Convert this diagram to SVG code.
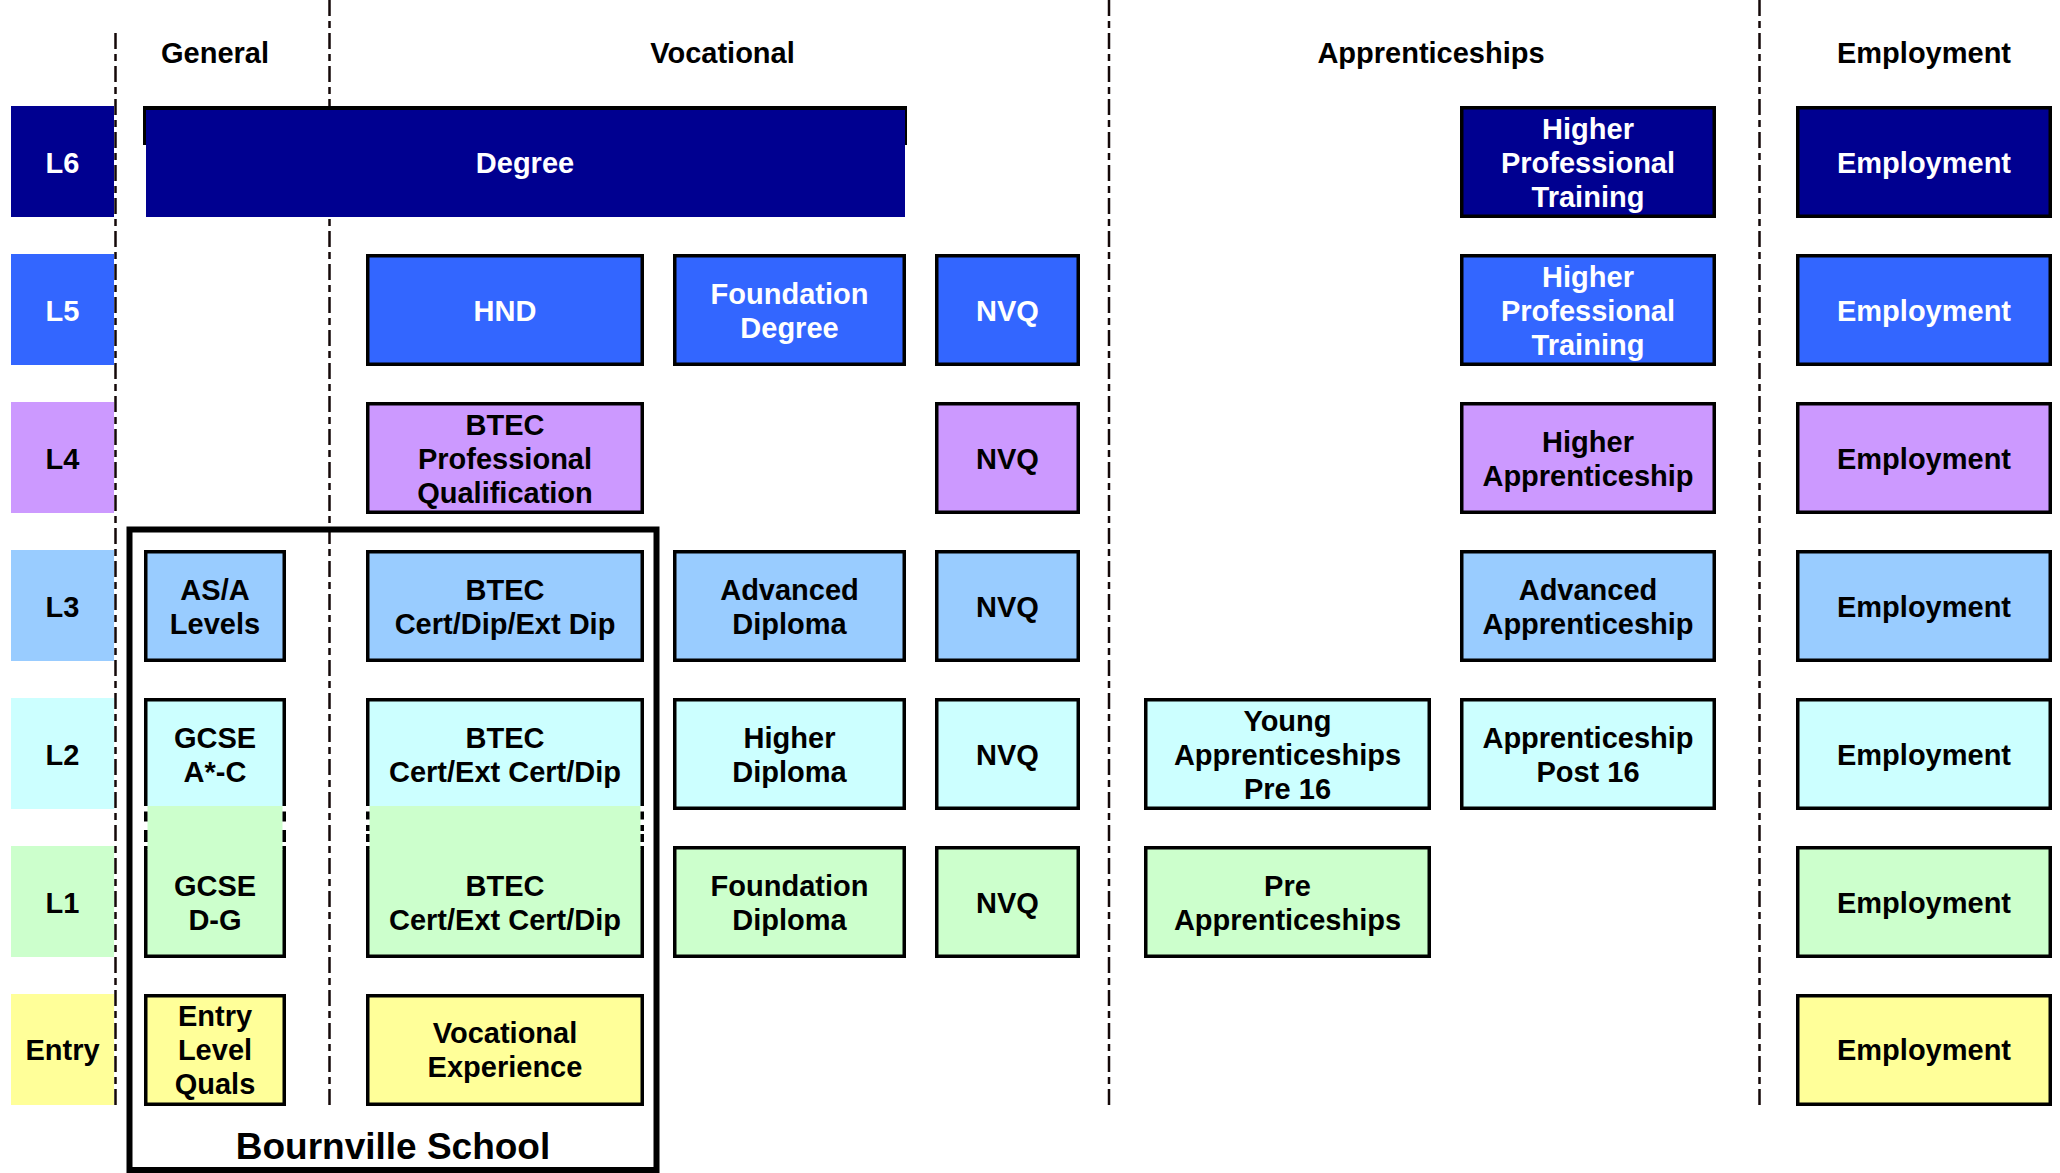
<svg xmlns="http://www.w3.org/2000/svg" width="2060" height="1173" viewBox="0 0 2060 1173">
<style>
.t{font-family:"Liberation Sans",Arial,sans-serif;font-weight:bold;font-size:29px;text-anchor:middle}
.w{fill:#fff}.k{fill:#000}
.b{stroke:#000;stroke-width:3.5}
.c6{fill:#000090}.c5{fill:#3366FF}.c4{fill:#CC99FF}.c3{fill:#99CCFF}.c2{fill:#CCFFFF}.c1{fill:#CCFFCC}.c0{fill:#FFFF99}
.d{stroke:#140808;stroke-width:2.5;stroke-dasharray:16 5 7 5;fill:none}
</style>
<rect width="2060" height="1173" fill="#fff"/>
<g id="headers">
<text class="t k" x="215" y="62.5">General</text>
<text class="t k" x="722.5" y="62.5">Vocational</text>
<text class="t k" x="1431" y="62.5">Apprenticeships</text>
<text class="t k" x="1924" y="62.5">Employment</text>
</g>
<g id="levels">
<g id="lvl-L6"><rect class="c6" x="11" y="106" width="103" height="111"/><text class="t w" x="62.5" y="172.5">L6</text></g>
<g id="lvl-L5"><rect class="c5" x="11" y="254" width="103" height="111"/><text class="t w" x="62.5" y="320.5">L5</text></g>
<g id="lvl-L4"><rect class="c4" x="11" y="402" width="103" height="111"/><text class="t k" x="62.5" y="468.5">L4</text></g>
<g id="lvl-L3"><rect class="c3" x="11" y="550" width="103" height="111"/><text class="t k" x="62.5" y="616.5">L3</text></g>
<g id="lvl-L2"><rect class="c2" x="11" y="698" width="103" height="111"/><text class="t k" x="62.5" y="764.5">L2</text></g>
<g id="lvl-L1"><rect class="c1" x="11" y="846" width="103" height="111"/><text class="t k" x="62.5" y="912.5">L1</text></g>
<g id="lvl-Entry"><rect class="c0" x="11" y="994" width="103" height="111"/><text class="t k" x="62.5" y="1059.5">Entry</text></g>
</g>
<g id="connectors">
<line class="d" x1="115.5" y1="33" x2="115.5" y2="1106"/>
<line class="d" x1="329.5" y1="0" x2="329.5" y2="1106"/>
<line class="d" x1="1109" y1="0" x2="1109" y2="1106"/>
<line class="d" x1="1759.5" y1="0" x2="1759.5" y2="1106"/>
</g>
<g id="bournville">
<rect x="129.5" y="529.5" width="527" height="640.5" fill="none" stroke="#000" stroke-width="6"/>
<text class="t k" x="393" y="1159" style="font-size:37px">Bournville School</text>
</g>
<g id="degree">
<rect x="143" y="106" width="764" height="39" fill="#000"/>
<rect class="c6" x="146" y="110" width="759" height="107"/>
<text class="t w" x="525" y="172.5">Degree</text>
</g>
<g id="hpt6"><rect class="b c6" x="1461.75" y="107.75" width="252.5" height="108.5"/><text class="t w" x="1588" y="138.5">Higher</text><text class="t w" x="1588" y="172.5">Professional</text><text class="t w" x="1588" y="206.5">Training</text></g>
<g id="emp6"><rect class="b c6" x="1797.75" y="107.75" width="252.5" height="108.5"/><text class="t w" x="1924" y="172.5">Employment</text></g>

<g id="hnd"><rect class="b c5" x="367.75" y="255.75" width="274.5" height="108.5"/><text class="t w" x="505" y="320.5">HND</text></g>
<g id="fdeg"><rect class="b c5" x="674.75" y="255.75" width="229.5" height="108.5"/><text class="t w" x="789.5" y="303.5">Foundation</text><text class="t w" x="789.5" y="337.5">Degree</text></g>
<g id="nvq5"><rect class="b c5" x="936.75" y="255.75" width="141.5" height="108.5"/><text class="t w" x="1007.5" y="320.5">NVQ</text></g>
<g id="hpt5"><rect class="b c5" x="1461.75" y="255.75" width="252.5" height="108.5"/><text class="t w" x="1588" y="286.5">Higher</text><text class="t w" x="1588" y="320.5">Professional</text><text class="t w" x="1588" y="354.5">Training</text></g>
<g id="emp5"><rect class="b c5" x="1797.75" y="255.75" width="252.5" height="108.5"/><text class="t w" x="1924" y="320.5">Employment</text></g>

<g id="btecpq"><rect class="b c4" x="367.75" y="403.75" width="274.5" height="108.5"/><text class="t k" x="505" y="434.5">BTEC</text><text class="t k" x="505" y="468.5">Professional</text><text class="t k" x="505" y="502.5">Qualification</text></g>
<g id="nvq4"><rect class="b c4" x="936.75" y="403.75" width="141.5" height="108.5"/><text class="t k" x="1007.5" y="468.5">NVQ</text></g>
<g id="happ"><rect class="b c4" x="1461.75" y="403.75" width="252.5" height="108.5"/><text class="t k" x="1588" y="451.5">Higher</text><text class="t k" x="1588" y="485.5">Apprenticeship</text></g>
<g id="emp4"><rect class="b c4" x="1797.75" y="403.75" width="252.5" height="108.5"/><text class="t k" x="1924" y="468.5">Employment</text></g>

<g id="asa"><rect class="b c3" x="145.75" y="551.75" width="138.5" height="108.5"/><text class="t k" x="215" y="599.5">AS/A</text><text class="t k" x="215" y="633.5">Levels</text></g>
<g id="btec3"><rect class="b c3" x="367.75" y="551.75" width="274.5" height="108.5"/><text class="t k" x="505" y="599.5">BTEC</text><text class="t k" x="505" y="633.5">Cert/Dip/Ext Dip</text></g>
<g id="advdip"><rect class="b c3" x="674.75" y="551.75" width="229.5" height="108.5"/><text class="t k" x="789.5" y="599.5">Advanced</text><text class="t k" x="789.5" y="633.5">Diploma</text></g>
<g id="nvq3"><rect class="b c3" x="936.75" y="551.75" width="141.5" height="108.5"/><text class="t k" x="1007.5" y="616.5">NVQ</text></g>
<g id="advapp"><rect class="b c3" x="1461.75" y="551.75" width="252.5" height="108.5"/><text class="t k" x="1588" y="599.5">Advanced</text><text class="t k" x="1588" y="633.5">Apprenticeship</text></g>
<g id="emp3"><rect class="b c3" x="1797.75" y="551.75" width="252.5" height="108.5"/><text class="t k" x="1924" y="616.5">Employment</text></g>

<g id="gcseac"><rect class="b c2" x="145.75" y="699.75" width="138.5" height="108.5"/></g>
<g id="btec2"><rect class="b c2" x="367.75" y="699.75" width="274.5" height="108.5"/></g>
<g id="hdip"><rect class="b c2" x="674.75" y="699.75" width="229.5" height="108.5"/><text class="t k" x="789.5" y="747.5">Higher</text><text class="t k" x="789.5" y="781.5">Diploma</text></g>
<g id="nvq2"><rect class="b c2" x="936.75" y="699.75" width="141.5" height="108.5"/><text class="t k" x="1007.5" y="764.5">NVQ</text></g>
<g id="yapp"><rect class="b c2" x="1145.75" y="699.75" width="283.5" height="108.5"/><text class="t k" x="1287.5" y="730.5">Young</text><text class="t k" x="1287.5" y="764.5">Apprenticeships</text><text class="t k" x="1287.5" y="798.5">Pre 16</text></g>
<g id="apppost"><rect class="b c2" x="1461.75" y="699.75" width="252.5" height="108.5"/><text class="t k" x="1588" y="747.5">Apprenticeship</text><text class="t k" x="1588" y="781.5">Post 16</text></g>
<g id="emp2"><rect class="b c2" x="1797.75" y="699.75" width="252.5" height="108.5"/><text class="t k" x="1924" y="764.5">Employment</text></g>

<g id="gcsedg"><rect class="b c1" x="145.75" y="847.75" width="138.5" height="108.5"/></g>
<g id="btec1"><rect class="b c1" x="367.75" y="847.75" width="274.5" height="108.5"/></g>
<g id="fdip"><rect class="b c1" x="674.75" y="847.75" width="229.5" height="108.5"/><text class="t k" x="789.5" y="895.5">Foundation</text><text class="t k" x="789.5" y="929.5">Diploma</text></g>
<g id="nvq1"><rect class="b c1" x="936.75" y="847.75" width="141.5" height="108.5"/><text class="t k" x="1007.5" y="912.5">NVQ</text></g>
<g id="preapp"><rect class="b c1" x="1145.75" y="847.75" width="283.5" height="108.5"/><text class="t k" x="1287.5" y="895.5">Pre</text><text class="t k" x="1287.5" y="929.5">Apprenticeships</text></g>
<g id="emp1"><rect class="b c1" x="1797.75" y="847.75" width="252.5" height="108.5"/><text class="t k" x="1924" y="912.5">Employment</text></g>

<g id="overlap">
<rect fill="#fff" x="144" y="806" width="142" height="40"/>
<rect fill="#fff" x="366" y="806" width="278" height="40"/>
<rect class="c1" x="147.5" y="806" width="135" height="44"/>
<rect class="c1" x="369.5" y="806" width="271" height="44"/>
<g fill="#000">
<rect x="144" y="811.5" width="3.5" height="10"/><rect x="144" y="830" width="3.5" height="12"/>
<rect x="282.5" y="811.5" width="3.5" height="10"/><rect x="282.5" y="830" width="3.5" height="12"/>
<rect x="366" y="811.5" width="3.5" height="8"/><rect x="366" y="825" width="3.5" height="6"/><rect x="366" y="834" width="3.5" height="8"/>
<rect x="640.5" y="811.5" width="3.5" height="8"/><rect x="640.5" y="825" width="3.5" height="6"/><rect x="640.5" y="834" width="3.5" height="8"/>
</g>
<text class="t k" x="215" y="747.5">GCSE</text><text class="t k" x="215" y="781.5">A*-C</text>
<text class="t k" x="505" y="747.5">BTEC</text><text class="t k" x="505" y="781.5">Cert/Ext Cert/Dip</text>
<text class="t k" x="215" y="895.5">GCSE</text><text class="t k" x="215" y="929.5">D-G</text>
<text class="t k" x="505" y="895.5">BTEC</text><text class="t k" x="505" y="929.5">Cert/Ext Cert/Dip</text>
</g>

<g id="entryq"><rect class="b c0" x="145.75" y="995.75" width="138.5" height="108.5"/><text class="t k" x="215" y="1025.5">Entry</text><text class="t k" x="215" y="1059.5">Level</text><text class="t k" x="215" y="1093.5">Quals</text></g>
<g id="vocexp"><rect class="b c0" x="367.75" y="995.75" width="274.5" height="108.5"/><text class="t k" x="505" y="1042.5">Vocational</text><text class="t k" x="505" y="1076.5">Experience</text></g>
<g id="emp0"><rect class="b c0" x="1797.75" y="995.75" width="252.5" height="108.5"/><text class="t k" x="1924" y="1059.5">Employment</text></g>
</svg>
